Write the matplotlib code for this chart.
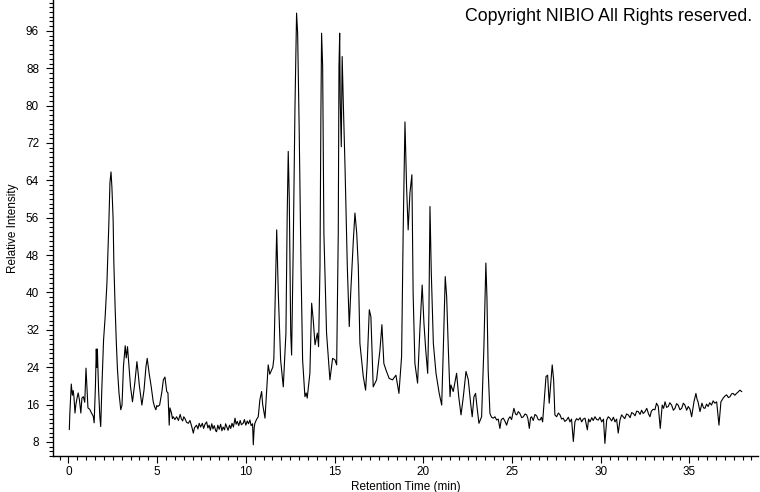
"""
Chromatogram (relative intensity vs retention time) redrawn from a screenshot.
"""

import numpy as np
import matplotlib
matplotlib.use('Agg')
import matplotlib.pyplot as plt
from matplotlib.ticker import MultipleLocator

plt.rcParams['font.family'] = ['Liberation Sans', 'DejaVu Sans']

# ============================================================
# Data (min, %)
# ============================================================
TIME = [
    0.05, 0.08, 0.14, 0.16, 0.22, 0.27, 0.31, 0.37, 0.42, 0.50, 0.55, 0.62, 0.70, 0.76,
    0.84, 0.92, 0.99, 1.04, 1.10, 1.20, 1.30, 1.40, 1.45, 1.52, 1.57, 1.60, 1.63, 1.70,
    1.77, 1.82, 1.88, 1.98, 2.07, 2.17, 2.28, 2.34, 2.40, 2.45, 2.52, 2.56, 2.63, 2.70,
    2.76, 2.85, 2.95, 3.02, 3.10, 3.20, 3.26, 3.33, 3.40, 3.50, 3.61, 3.74, 3.86, 3.92,
    4.00, 4.14, 4.26, 4.37, 4.44, 4.55, 4.66, 4.78, 4.86, 4.93, 4.98, 5.04, 5.14, 5.27,
    5.35, 5.44, 5.54, 5.61, 5.68, 5.72, 5.81, 5.86, 5.91, 6.00, 6.10, 6.20, 6.30, 6.37,
    6.44, 6.50, 6.57, 6.66, 6.76, 6.85, 6.95, 7.04, 7.10, 7.22, 7.30, 7.37,
    7.45, 7.55, 7.62, 7.70, 7.79, 7.86, 7.93, 8.00, 8.08, 8.15, 8.22, 8.30, 8.35, 8.42,
    8.50, 8.58, 8.65, 8.72, 8.80, 8.86, 8.92, 9.00, 9.08, 9.15, 9.22, 9.30, 9.39, 9.45,
    9.52, 9.60, 9.68, 9.75, 9.85, 9.92, 10.00, 10.08, 10.15, 10.23, 10.30, 10.38, 10.42,
    10.47, 10.51, 10.60, 10.70, 10.79, 10.89, 10.95, 11.02, 11.08, 11.17, 11.26, 11.35,
    11.45, 11.52, 11.58, 11.68, 11.74, 11.83, 11.96, 12.11, 12.26, 12.33, 12.39, 12.45,
    12.53, 12.58, 12.67, 12.77, 12.86, 12.92, 13.01, 13.11, 13.20, 13.33, 13.40, 13.46,
    13.61, 13.71, 13.80, 13.90, 14.03, 14.10, 14.18, 14.23, 14.27, 14.33, 14.40, 14.55,
    14.74, 14.89, 15.02, 15.12, 15.21, 15.25, 15.29, 15.32, 15.38, 15.43, 15.49, 15.59,
    15.72, 15.83, 15.91, 16.06, 16.15, 16.25, 16.34, 16.43, 16.62, 16.75, 16.84, 16.96,
    17.05, 17.18, 17.37, 17.56, 17.67, 17.78, 17.90, 18.08, 18.27, 18.46, 18.63, 18.78,
    18.87, 18.97, 19.06, 19.15, 19.25, 19.36, 19.43, 19.53, 19.68, 19.81, 19.94, 20.04,
    20.14, 20.25, 20.32, 20.38, 20.45, 20.57, 20.72, 20.90, 21.04, 21.13, 21.24, 21.32,
    21.41, 21.51, 21.56, 21.69, 21.88, 22.00, 22.13, 22.26, 22.41, 22.54, 22.67, 22.76,
    22.86, 22.95, 23.04, 23.14, 23.29, 23.42, 23.53, 23.59, 23.66, 23.76, 23.85, 23.95,
    24.04, 24.14, 24.23, 24.32, 24.40, 24.51, 24.60, 24.70, 24.80, 24.89, 24.98, 25.11,
    25.20, 25.27, 25.36, 25.45, 25.55, 25.64, 25.74, 25.83, 25.90, 25.98, 26.05, 26.11,
    26.20, 26.30, 26.39, 26.48, 26.58, 26.66, 26.73, 26.82, 26.92, 27.01, 27.10, 27.20,
    27.27, 27.35, 27.42, 27.52, 27.62, 27.71, 27.80, 27.89, 27.98, 28.08, 28.18, 28.27,
    28.36, 28.46, 28.55, 28.64, 28.74, 28.84, 28.93, 29.02, 29.12, 29.25, 29.32, 29.40,
    29.50, 29.58, 29.68, 29.78, 29.87, 29.96, 30.06, 30.16, 30.24, 30.34, 30.43, 30.52,
    30.62, 30.72, 30.81, 30.90, 30.99, 31.09, 31.18, 31.27, 31.36, 31.46, 31.56, 31.66,
    31.75, 31.84, 31.94, 32.03, 32.12, 32.22, 32.31, 32.40, 32.50, 32.60, 32.70, 32.78,
    32.86, 32.96, 33.06, 33.15, 33.25, 33.36, 33.47, 33.55, 33.63, 33.72, 33.81, 33.90,
    34.00, 34.10, 34.19, 34.28, 34.37, 34.47, 34.57, 34.66, 34.75, 34.85, 34.94, 35.04,
    35.13, 35.26, 35.37, 35.43, 35.49, 35.60, 35.71, 35.80, 35.88, 35.97, 36.06, 36.15,
    36.25, 36.34, 36.44, 36.54, 36.67, 36.78, 36.91, 37.00, 37.10, 37.20, 37.29, 37.38,
    37.47, 37.56, 37.66, 37.75, 37.85, 37.95,
]

INTENSITY = [
    10.7, 14.2, 18.8, 20.4, 18.0, 19.0, 17.7, 14.2, 16.0, 17.7, 18.5, 17.0, 14.2, 17.4,
    17.7, 16.5, 23.8, 19.8, 15.3, 15.0, 14.2, 13.5, 12.1, 19.8, 27.9, 24.0, 27.9, 19.1,
    13.4, 11.3, 19.1, 29.8, 34.8, 42.0, 55.0, 63.5, 65.8, 62.6, 55.5, 46.3, 37.0, 29.2,
    23.8, 18.5, 14.9, 15.9, 24.1, 28.6, 26.0, 28.4, 24.9, 19.8, 16.6, 20.6, 25.2, 23.1,
    20.0, 15.9, 19.1, 24.1, 25.9, 22.7, 20.0, 16.6, 15.5, 14.9, 15.8, 15.6, 15.9, 18.8,
    21.3, 21.9, 18.8, 18.5, 11.6, 15.3, 14.2, 13.0, 13.4, 12.8, 13.4, 12.6, 13.9, 12.9,
    12.5, 13.4, 13.0, 12.2, 12.0, 12.6, 11.3, 9.9, 11.0, 11.6, 10.8, 12.0,
    11.2, 12.0, 10.9, 11.8, 12.3, 11.0, 11.6, 10.5, 11.9, 10.8, 11.5, 10.4, 10.2, 11.6,
    10.7, 11.8, 10.4, 11.2, 10.6, 11.9, 11.3, 10.5, 11.6, 10.9, 12.0, 11.2, 13.1, 11.8,
    12.4, 11.5, 12.6, 11.7, 12.0, 12.8, 11.6, 12.5, 11.9, 12.7, 11.5, 11.9, 7.4,
    11.0, 12.0, 12.8, 13.4, 17.0, 18.8, 16.0, 14.5, 13.1, 19.0, 24.5, 22.5,
    23.4, 24.0, 25.9, 42.7, 53.4, 39.8, 25.6, 19.8, 31.3, 56.2, 70.2, 59.8,
    31.3, 26.6, 49.1, 79.8, 99.8, 95.5, 74.1, 45.5, 25.6, 17.7, 18.5, 17.4,
    22.7, 37.7, 34.1, 28.8, 31.3, 28.4, 45.5, 77.7, 95.5, 88.4, 52.7, 31.3,
    21.3, 25.9, 25.6, 24.5, 52.7, 88.4, 95.5, 81.2, 71.2, 90.5, 81.2, 67.0,
    45.5, 32.7, 39.8, 51.2, 57.0, 52.7, 45.5, 29.1, 22.0, 19.1, 24.8, 36.3,
    34.8, 19.8, 21.3, 27.7, 33.1, 24.8, 23.4, 21.6, 21.3, 22.3, 18.4, 26.3,
    53.4, 76.5, 62.7, 53.4, 61.3, 65.2, 39.8, 24.8, 20.6, 32.0, 41.6, 33.4,
    27.7, 22.7, 35.6, 58.4, 44.8, 29.1, 22.7, 18.4, 15.9, 27.7, 43.4, 39.1,
    28.4, 17.7, 20.2, 18.8, 22.7, 17.7, 13.8, 17.7, 23.1, 21.3, 16.3, 13.4,
    17.7, 18.4, 15.2, 12.0, 13.4, 28.4, 46.3, 39.1, 23.4, 14.1, 13.3, 13.1,
    13.4, 12.7, 12.9, 10.9, 12.8, 13.1, 12.5, 11.6, 12.9, 13.4, 12.8, 15.2,
    14.0, 13.8, 14.5, 14.1, 13.2, 13.4, 14.0, 13.8, 13.0, 10.9, 13.2, 13.4,
    12.6, 13.9, 13.6, 12.8, 12.7, 13.3, 12.3, 17.0, 22.0, 22.3, 16.3, 21.3,
    24.5, 21.3, 13.8, 13.4, 14.2, 13.8, 12.9, 13.1, 12.4, 12.7, 13.3, 12.3,
    12.9, 8.1, 12.3, 13.0, 12.7, 13.2, 12.3, 12.9, 13.1, 10.6, 12.9, 12.3,
    13.2, 12.6, 13.4, 12.8, 12.7, 13.3, 12.3, 12.9, 7.7, 12.7, 13.4, 13.1,
    12.5, 13.3, 12.3, 12.9, 9.9, 12.7, 13.8, 13.4, 13.0, 14.0, 13.8, 13.2,
    14.3, 14.1, 13.6, 14.6, 14.5, 13.9, 14.8, 14.1, 14.5, 15.2, 14.0, 13.4,
    14.6, 15.0, 14.9, 16.3, 15.6, 10.9, 15.9, 15.2, 16.6, 15.4, 15.6, 16.4,
    15.9, 14.8, 15.2, 16.2, 15.9, 14.9, 15.2, 16.3, 15.9, 14.8, 15.6, 15.0,
    13.4, 16.6, 18.4, 17.2, 16.6, 14.5, 16.3, 15.3, 15.2, 16.1, 15.6, 16.4,
    15.9, 16.8, 16.3, 16.6, 11.6, 16.6, 17.4, 17.8, 18.1, 17.5, 17.7, 18.3,
    18.4, 18.0, 18.4, 18.7, 19.1, 18.8,
]

X_MAJOR = 5
Y_TICKS = np.arange(8, 97, 8)


def plot_chromatogram(save_path='out.png'):
    fig = plt.figure(figsize=(7.6, 4.92), dpi=100)
    ax = fig.add_axes([53 / 760, 36 / 492, 705 / 760, 456 / 492])

    ax.plot(TIME, INTENSITY, color='black', linewidth=0.8)

    ax.set_xlim(-0.87, 38.87)
    ax.set_ylim(5.0, 102.6)

    # only left and bottom axis lines, like the instrument software
    ax.spines['top'].set_visible(False)
    ax.spines['right'].set_visible(False)
    for side in ('left', 'bottom'):
        ax.spines[side].set_linewidth(1.0)

    ax.xaxis.set_major_locator(MultipleLocator(X_MAJOR))
    ax.xaxis.set_minor_locator(MultipleLocator(0.5))
    ax.set_yticks(Y_TICKS)
    ax.yaxis.set_minor_locator(MultipleLocator(1))

    ax.tick_params(which='major', direction='out', length=5, width=0.8,
                   labelsize=8.5, colors='black')
    ax.tick_params(which='minor', direction='out', length=3, width=0.8)
    ax.tick_params(axis='y', which='major', pad=5)
    ax.tick_params(axis='x', which='major', pad=2)

    ax.set_xlabel('Retention Time (min)', fontsize=8.5)
    ax.set_ylabel('Relative Intensity', fontsize=8.5)
    ax.yaxis.set_label_coords(-0.048, 0.5)
    ax.xaxis.set_label_coords(0.5, -0.055)

    fig.text(752 / 760, 1 - 21 / 492, 'Copyright NIBIO All Rights reserved.',
             ha='right', va='baseline', fontsize=12.8)

    fig.savefig(save_path, dpi=100)
    plt.close(fig)


if __name__ == '__main__':
    plot_chromatogram()
